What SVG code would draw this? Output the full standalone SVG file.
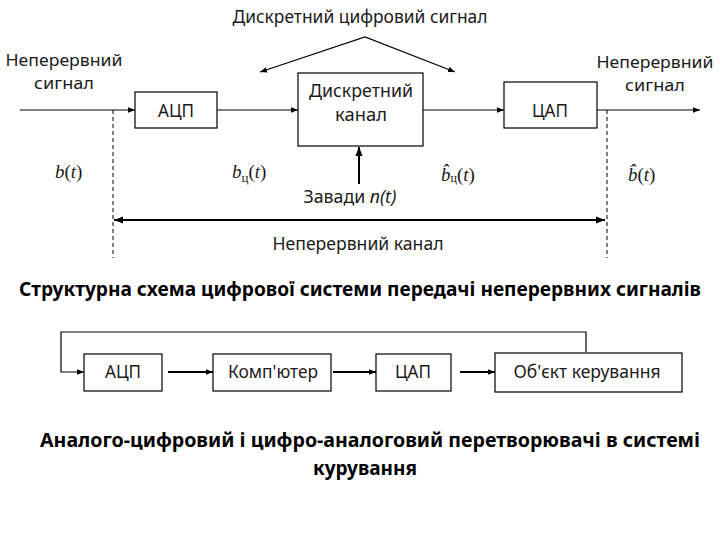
<svg xmlns="http://www.w3.org/2000/svg" width="720" height="540" viewBox="0 0 720 540">
<defs>
<marker id="ah" viewBox="0 0 10 10" refX="10" refY="5" markerWidth="7" markerHeight="7" markerUnits="userSpaceOnUse" orient="auto-start-reverse">
<path d="M0,1 L10,5 L0,9 z" fill="#000"/>
</marker>
<marker id="ahb" viewBox="0 0 10 10" refX="10" refY="5" markerWidth="9" markerHeight="9" markerUnits="userSpaceOnUse" orient="auto-start-reverse">
<path d="M0,1 L10,5 L0,9 z" fill="#000"/>
</marker>
</defs>
<style>
.box{fill:#fff;stroke:#000;stroke-width:1.2}
.t{font-family:"Noto Sans","Open Sans","Liberation Sans",sans-serif;font-size:18px;fill:#1a1a1a;text-anchor:middle}
.s{font-size:17px}
.h{font-family:"Noto Sans","Open Sans","Liberation Sans",sans-serif;font-size:19px;font-weight:bold;fill:#000;text-anchor:middle}
.m{font-family:"Liberation Serif","DejaVu Serif",serif;font-size:19px;font-style:italic;fill:#1a1a1a}
.ln{stroke:#000;stroke-width:1.2;fill:none}
.lnb{stroke:#000;stroke-width:2;fill:none}
.d{stroke:#000;stroke-width:1;stroke-dasharray:4,3;fill:none}
</style>
<rect width="720" height="540" fill="#fff"/>

<g id="connectors">
<polyline class="ln" points="260,72 365,37 455,72" marker-start="url(#ah)" marker-end="url(#ah)"/>
<line class="ln" x1="20" y1="110" x2="135" y2="110" marker-end="url(#ah)"/>
<line class="ln" x1="217" y1="110" x2="298" y2="110" marker-end="url(#ah)"/>
<line class="ln" x1="423" y1="110" x2="504" y2="110" marker-end="url(#ah)"/>
<line class="ln" x1="597" y1="110" x2="700" y2="110" marker-end="url(#ah)"/>
<line class="d" x1="113" y1="110" x2="113" y2="258"/>
<line class="d" x1="607" y1="110" x2="607" y2="258"/>
<line class="lnb" x1="359" y1="184" x2="359" y2="147" marker-end="url(#ahb)"/>
<line class="lnb" x1="114" y1="220" x2="605" y2="220" marker-start="url(#ahb)" marker-end="url(#ahb)"/>

<polyline class="ln" points="586,352 586,332 61,332 61,372 84,372" marker-end="url(#ah)"/>
<line class="lnb" x1="168" y1="372" x2="213" y2="372" marker-end="url(#ah)"/>
<line class="lnb" x1="333" y1="372" x2="376" y2="372" marker-end="url(#ah)"/>
<line class="lnb" x1="460" y1="372" x2="495" y2="372" marker-end="url(#ah)"/>
</g>

<g id="title1"><text class="t" x="360" y="23" textLength="255" lengthAdjust="spacingAndGlyphs">Дискретний цифровий сигнал</text></g>
<g id="in-label"><text class="t s" x="64" y="66" textLength="117" lengthAdjust="spacingAndGlyphs">Неперервний</text><text class="t s" x="64" y="89" textLength="60" lengthAdjust="spacingAndGlyphs">сигнал</text></g>
<g id="out-label"><text class="t s" x="655" y="68" textLength="117" lengthAdjust="spacingAndGlyphs">Неперервний</text><text class="t s" x="655" y="91" textLength="60" lengthAdjust="spacingAndGlyphs">сигнал</text></g>

<g id="adc1"><rect class="box" x="135" y="92" width="82" height="36"/><text class="t" x="176" y="117" textLength="36" lengthAdjust="spacingAndGlyphs">АЦП</text></g>
<g id="channel"><rect class="box" x="298" y="73" width="125" height="73"/><text class="t" x="361" y="97" textLength="104" lengthAdjust="spacingAndGlyphs">Дискретний</text><text class="t" x="361" y="121" textLength="52" lengthAdjust="spacingAndGlyphs">канал</text></g>
<g id="dac1"><rect class="box" x="504" y="82" width="93" height="46"/><text class="t" x="550" y="117" textLength="36" lengthAdjust="spacingAndGlyphs">ЦАП</text></g>

<g id="math">
<text class="m" x="55" y="178">b<tspan font-style="normal">(</tspan>t<tspan font-style="normal">)</tspan></text>
<text class="m" x="232" y="178">b<tspan font-style="normal" font-size="13" dy="4">ц</tspan><tspan font-style="normal" dy="-4">(</tspan>t<tspan font-style="normal">)</tspan></text>
<text class="m" x="441" y="181" font-size="22">b̂<tspan font-style="normal" font-size="12" dy="1">ц</tspan><tspan font-style="normal" dy="-1">(</tspan>t<tspan font-style="normal">)</tspan></text>
<text class="m" x="628" y="181" font-size="22">b̂<tspan font-style="normal">(</tspan>t<tspan font-style="normal">)</tspan></text>
</g>
<g id="noise"><text class="t" x="350" y="203" textLength="93" lengthAdjust="spacingAndGlyphs">Завади <tspan font-style="italic">n(t)</tspan></text></g>
<g id="cont-channel"><text class="t" x="358" y="250" textLength="171" lengthAdjust="spacingAndGlyphs">Неперервний канал</text></g>
<g id="caption1"><text class="h" x="360" y="296" textLength="682" lengthAdjust="spacingAndGlyphs">Структурна схема цифрової системи передачі неперервних сигналів</text></g>

<g id="adc2"><rect class="box" x="84" y="354" width="78" height="37"/><text class="t" x="123" y="378" textLength="36" lengthAdjust="spacingAndGlyphs">АЦП</text></g>
<g id="computer"><rect class="box" x="213" y="354" width="118" height="37"/><text class="t" x="273" y="378" textLength="90" lengthAdjust="spacingAndGlyphs">Комп'ютер</text></g>
<g id="dac2"><rect class="box" x="376" y="354" width="75" height="37"/><text class="t" x="413" y="378" textLength="36" lengthAdjust="spacingAndGlyphs">ЦАП</text></g>
<g id="object"><rect class="box" x="495" y="353" width="187" height="39"/><text class="t" x="587" y="378" textLength="147" lengthAdjust="spacingAndGlyphs">Об'єкт керування</text></g>

<g id="caption2"><text class="h" x="370" y="447" textLength="660" lengthAdjust="spacingAndGlyphs">Аналого-цифровий і цифро-аналоговий перетворювачі в системі</text><text class="h" x="365" y="475" textLength="104" lengthAdjust="spacingAndGlyphs">курування</text></g>
</svg>
